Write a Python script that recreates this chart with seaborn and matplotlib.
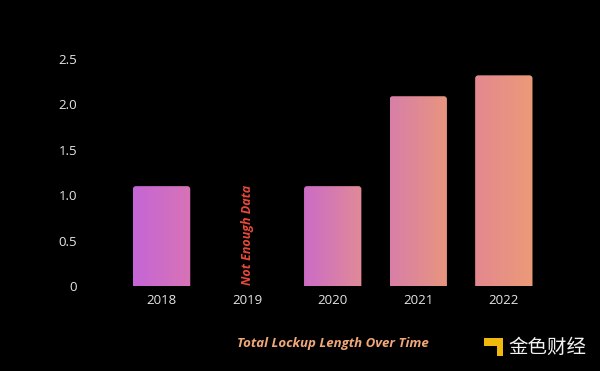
import numpy as np
import pandas as pd
import matplotlib
matplotlib.use("Agg")
import matplotlib.pyplot as plt
import seaborn as sns
from matplotlib.patches import FancyBboxPatch, Rectangle
from matplotlib.colors import LinearSegmentedColormap

# Daten
years = ["2018", "2019", "2020", "2021", "2022"]
lockup = [1.10, 0, 1.10, 2.09, 2.32]
y_ticks = [0, 0.5, 1.0, 1.5, 2.0, 2.5]
y_ticklabels = ["0", "0.5", "1.0", "1.5", "2.0", "2.5"]
missing_year = "2019"
missing_label = "Not Enough Data"
chart_title = "Total Lockup Length Over Time"
logo_text = "金色财经"

# Verlaufsfarben je Balken (links -> rechts)
grad_left = ["#c466d6", "#c466d6", "#cc6cc6", "#d87fa8", "#e48890"]
grad_right = ["#d873b6", "#d873b6", "#e08a98", "#e8957e", "#eb9a78"]

df = pd.DataFrame({"year": years, "value": lockup})

sns.set_theme(style="dark")
plt.rcParams["font.family"] = ["Open Sans", "DejaVu Sans"]

fig = plt.figure(figsize=(6, 3.71), dpi=100, facecolor="#000000")
ax = fig.add_axes([0.198, 0.229, 0.713, 0.612], facecolor="#000000")

sns.barplot(data=df, x="year", y="value", width=0.67, color="#c466d6",
            ax=ax, saturation=1)

# Balken durch Verlauf mit abgerundeten Ecken ersetzen
for i, p in enumerate(ax.patches):
    x0, y0 = p.get_x(), p.get_y()
    w, h = p.get_width(), p.get_height()
    p.set_visible(False)
    if h <= 0:
        continue
    cmap = LinearSegmentedColormap.from_list("g%d" % i, [grad_left[i], grad_right[i]])
    clip = FancyBboxPatch((x0, y0 - 0.04), w, h + 0.04,
                          boxstyle="round,pad=0,rounding_size=0.035",
                          mutation_aspect=0.94, transform=ax.transData,
                          facecolor="none", edgecolor="none")
    ax.add_patch(clip)
    grad = np.linspace(0, 1, 64).reshape(1, -1)
    im = ax.imshow(grad, cmap=cmap, extent=[x0, x0 + w, y0 - 0.04, y0 + h],
                   aspect="auto", zorder=2, interpolation="bilinear")
    im.set_clip_box(None)
    im.set_clip_path(clip)

ax.set_xlim(-0.5, 4.5)
ax.set_ylim(0, 2.5)
ax.set_yticks(y_ticks)
ax.set_yticklabels(y_ticklabels)
ax.set_xlabel("")
ax.set_ylabel("")
ax.grid(False)
for s in ax.spines.values():
    s.set_visible(False)
ax.tick_params(axis="both", colors="#e6e6e6", labelsize=9.5, length=0)
ax.tick_params(axis="y", pad=30)
ax.tick_params(axis="x", pad=6)
for lab in ax.get_yticklabels():
    lab.set_horizontalalignment("right")

# Hinweis fuer 2019
ax.text(years.index(missing_year), 0.56, missing_label, rotation=90,
        ha="center", va="center", color="#e8483a", fontsize=9,
        fontweight="bold", fontstyle="italic")

fig.text(0.555, 0.075, chart_title, ha="center", va="center",
         color="#f0a878", fontsize=9.5, fontweight="bold", fontstyle="italic")

# Logo
fig.patches.append(Rectangle((0.807, 0.040), 0.032, 0.050, transform=fig.transFigure,
                             facecolor="#f0b90b", edgecolor="none"))
fig.patches.append(Rectangle((0.807, 0.040), 0.021, 0.028, transform=fig.transFigure,
                             facecolor="#000000", edgecolor="none"))
fig.patches.append(Rectangle((0.812, 0.077), 0.007, 0.013, transform=fig.transFigure,
                             facecolor="#f0b90b", edgecolor="none"))
fig.text(0.848, 0.063, logo_text, ha="left", va="center", color="#f2f2f2",
         fontsize=14, family=["Noto Sans CJK SC", "DejaVu Sans"])

fig.savefig("out.png", dpi=100, facecolor=fig.get_facecolor())
